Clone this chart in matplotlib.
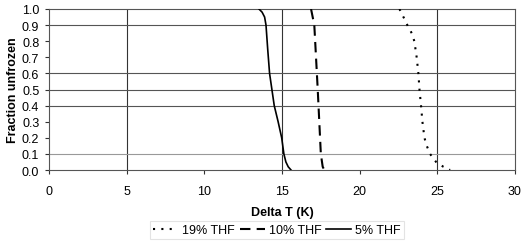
import matplotlib
matplotlib.use("Agg")
import matplotlib.pyplot as plt

plt.rcParams['font.family'] = ['Liberation Sans', 'DejaVu Sans']

# Data
frac = [1.0, 0.95, 0.9, 0.85, 0.8, 0.7, 0.6, 0.5, 0.4, 0.3, 0.2, 0.15, 0.1, 0.05, 0.02, 0.0]
dT_19 = [22.56, 22.82, 23.07, 23.35, 23.52, 23.67, 23.78, 23.85, 23.95, 24.04, 24.17, 24.32, 24.53, 24.92, 25.39, 25.82]

frac_10 = [1.0, 0.9, 0.5, 0.1, 0.02, 0.0]
dT_10 = [16.87, 17.08, 17.30, 17.50, 17.62, 17.73]

frac_5 = [1.0, 0.98, 0.95, 0.9, 0.75, 0.6, 0.4, 0.3, 0.2, 0.1, 0.05, 0.02, 0.0]
dT_5 = [13.52, 13.72, 13.88, 13.97, 14.08, 14.2, 14.5, 14.75, 14.98, 15.12, 15.25, 15.4, 15.58]

xticks = [0, 5, 10, 15, 20, 25, 30]
yticks = [0.0, 0.1, 0.2, 0.3, 0.4, 0.5, 0.6, 0.7, 0.8, 0.9, 1.0]
vgrid = [5, 15, 25]
hgrid = [0.1, 0.4, 0.5, 0.6, 0.9]

fig = plt.figure(figsize=(5.31, 2.51), dpi=100)
ax = fig.add_axes([49/531, 80/251, 466/531, 161/251])

for g in vgrid:
    ax.axvline(g, color='#333333', lw=0.8, zorder=1)
for g in hgrid:
    ax.axhline(g, color='#555555' if g != 0.1 else '#999999', lw=0.8, zorder=1)

l1, = ax.plot(dT_19, frac, color='black', lw=1.5, linestyle=(0, (1, 3)), label='19% THF', zorder=3)
l2, = ax.plot(dT_10, frac_10, color='black', lw=1.5, linestyle=(0, (5, 3)), label='10% THF', zorder=3)
l3, = ax.plot(dT_5, frac_5, color='black', lw=1.2, linestyle='-', label='5% THF', zorder=3)

ax.set_xlim(0, 30)
ax.set_ylim(0, 1.0)
ax.set_xticks(xticks)
ax.set_yticks(yticks)
ax.set_yticklabels([f"{v:.1f}" for v in yticks])
ax.tick_params(axis='both', labelsize=9, length=3, width=0.8, color='#333333', pad=4)
ax.tick_params(axis='x', pad=8)

for s in ['left', 'bottom', 'right', 'top']:
    ax.spines[s].set_color('#555555')
    ax.spines[s].set_linewidth(0.8)

ax.set_xlabel('Delta T (K)', fontsize=9, fontweight='bold', labelpad=6)
ax.set_ylabel('Fraction unfrozen', fontsize=9, fontweight='bold', labelpad=2)

leg = fig.legend(handles=[l1, l2, l3], loc='center', bbox_to_anchor=(277/531, 1 - 231/251),
                 ncol=3, fontsize=9, frameon=True, fancybox=False, handlelength=2.0,
                 handletextpad=0.3, columnspacing=0.4, borderpad=0.25)
leg.get_frame().set_edgecolor('#dddddd')
leg.get_frame().set_linewidth(0.8)

fig.savefig('out.png', dpi=100)
